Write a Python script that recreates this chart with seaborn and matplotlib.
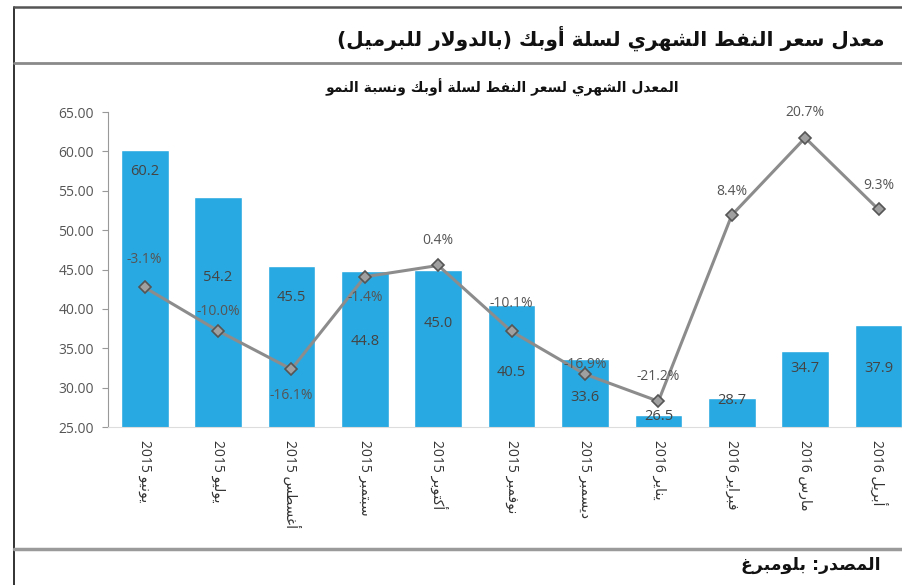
import numpy as np
import matplotlib
matplotlib.use("Agg")
import matplotlib.pyplot as plt
from matplotlib.lines import Line2D
import seaborn as sns

# data
months = ["يونيو", "يوليو", "أغسطس", "سبتمبر", "أكتوبر", "نوفمبر",
          "ديسمبر", "يناير", "فبراير", "مارس", "أبريل"]
years = ["2015", "2015", "2015", "2015", "2015", "2015",
         "2015", "2016", "2016", "2016", "2016"]
prices = [60.2, 54.2, 45.5, 44.8, 45.0, 40.5, 33.6, 26.5, 28.7, 34.7, 37.9]
growth = [-3.1, -10.0, -16.1, -1.4, 0.4, -10.1, -16.9, -21.2, 8.4, 20.7, 9.3]

title = "معدل سعر النفط الشهري لسلة أوبك (بالدولار للبرميل)"
subtitle = "المعدل الشهري لسعر النفط لسلة أوبك ونسبة النمو"
source = "المصدر: بلومبرغ"

# where the labels sit (as in the original layout)
price_label_y = [57.4, 44.0, 41.5, 35.9, 38.2, 31.9, 28.8, 26.3, 28.4, 32.4, 32.4]
pct_offset_px = [28, 19, -26, -21, 25, 28, 10, 25, 24, 25, 24]

# --- minimal arabic shaping (matplotlib has no RTL/joining support) ---
FORMS = {'ا': 0xFE8D, 'أ': 0xFE83, 'إ': 0xFE87, 'ب': 0xFE8F, 'ة': 0xFE93,
         'ت': 0xFE95, 'ج': 0xFE9D, 'ح': 0xFEA1, 'د': 0xFEA9, 'ر': 0xFEAD,
         'ز': 0xFEAF, 'س': 0xFEB1, 'ش': 0xFEB5, 'ص': 0xFEB9, 'ط': 0xFEC1,
         'ع': 0xFEC9, 'غ': 0xFECD, 'ف': 0xFED1, 'ق': 0xFED5, 'ك': 0xFED9,
         'ل': 0xFEDD, 'م': 0xFEE1, 'ن': 0xFEE5, 'ه': 0xFEE9, 'و': 0xFEED,
         'ي': 0xFEF1, 'لا': 0xFEFB, 'لأ': 0xFEF7}
RIGHT_ONLY = set('اأإدذرزوة') | {'لا', 'لأ'}


def shape(text):
    toks = []
    i = 0
    while i < len(text):
        if text[i] == 'ل' and i + 1 < len(text) and text[i + 1] in 'اأ':
            toks.append(text[i:i + 2])
            i += 2
        else:
            toks.append(text[i])
            i += 1
    out = []
    for k, t in enumerate(toks):
        if t not in FORMS:
            out.append(t)
            continue
        prev = toks[k - 1] if k > 0 else ''
        nxt = toks[k + 1] if k + 1 < len(toks) else ''
        jp = prev in FORMS and prev not in RIGHT_ONLY
        jn = nxt in FORMS and t not in RIGHT_ONLY
        base = FORMS[t]
        if jp and jn:
            out.append(chr(base + 3))
        elif jn:
            out.append(chr(base + 2))
        elif jp:
            out.append(chr(base + 1))
        else:
            out.append(chr(base))
    return ''.join(out)


def rtl(text):
    mirror = {'(': ')', ')': '('}
    return ''.join(mirror.get(c, c) for c in reversed(shape(text)))


sns.set_style("white")
plt.rcParams['font.family'] = ['Open Sans', 'DejaVu Sans']

fig = plt.figure(figsize=(9.02, 5.85), dpi=100)
ax = fig.add_axes([0.1197, 0.270, 0.895, 0.5385])

x = np.arange(len(prices))
labels = [y + ' ' + rtl(m) for m, y in zip(months, years)]

sns.barplot(x=x, y=prices, color='#29a9e1', saturation=1, width=0.65, ax=ax)
ax.set_ylim(25, 65)
ax.set_xlim(-0.5, len(prices) - 0.5)
ax.set_yticks(np.arange(25, 66, 5))
ax.set_yticklabels([f'{v:.2f}' for v in np.arange(25, 66, 5)],
                   color='#555555', fontsize=10)
ax.set_xticks(x)
ax.set_xticklabels(labels, rotation=270, fontsize=10, color='#333333',
                   family=['Open Sans', 'DejaVu Sans'], va='top', ha='center')
ax.set_xticks(x[:-1] + 0.5, minor=True)
ax.tick_params(axis='x', which='major', length=0, pad=9)
ax.tick_params(axis='x', which='minor', length=4, color='#bbbbbb', width=0.8)
ax.tick_params(axis='y', length=4, color='#999999', width=0.8, left=True, pad=6)
ax.set_xlabel('')
sns.despine(ax=ax, top=True, right=True)
ax.spines['left'].set_color('#999999')
ax.spines['bottom'].set_color('#dddddd')

for i, v in enumerate(prices):
    ax.text(i, price_label_y[i], f'{v:.1f}', ha='center', va='center',
            fontsize=10.5, color='#444444')

ax2 = ax.twinx()
sns.lineplot(x=x, y=growth, ax=ax2, color='#8c8c8c', linewidth=2.2,
             marker='D', markersize=6, markerfacecolor='#a0a0a0',
             markeredgecolor='#555555', markeredgewidth=1.2)
ax2.set_ylim(-25.3, 24.8)
ax2.set_xlim(-0.5, len(prices) - 0.5)
ax2.axis('off')

for i, g in enumerate(growth):
    ax2.annotate(f'{g:.1f}%', (i, g), xytext=(0, pct_offset_px[i]),
                 textcoords='offset pixels', ha='center', va='center',
                 fontsize=10, color='#555555')

# frame lines and texts
fig.add_artist(Line2D([0.0155, 0.0155], [0.0, 0.988], color='#222222', lw=1.3))
fig.add_artist(Line2D([0.0155, 1.0], [0.988, 0.988], color='#555555', lw=1.8))
fig.add_artist(Line2D([0.0155, 1.0], [0.892, 0.892], color='#8a8a8a', lw=2))
fig.add_artist(Line2D([0.0155, 1.0], [0.0615, 0.0615], color='#9a9a9a', lw=2.5))

fig.text(0.981, 0.935, rtl(title), ha='right', va='center', fontsize=14.5,
         fontweight='bold', color='#111111', family='DejaVu Sans')
fig.text(0.557, 0.849, rtl(subtitle), ha='center', va='center', fontsize=10,
         fontweight='bold', color='#111111', family='DejaVu Sans')
fig.text(0.976, 0.034, rtl(source), ha='right', va='center', fontsize=12.5,
         fontweight='bold', color='#111111', family='DejaVu Sans')

fig.savefig('out.png', dpi=100, facecolor='white')
